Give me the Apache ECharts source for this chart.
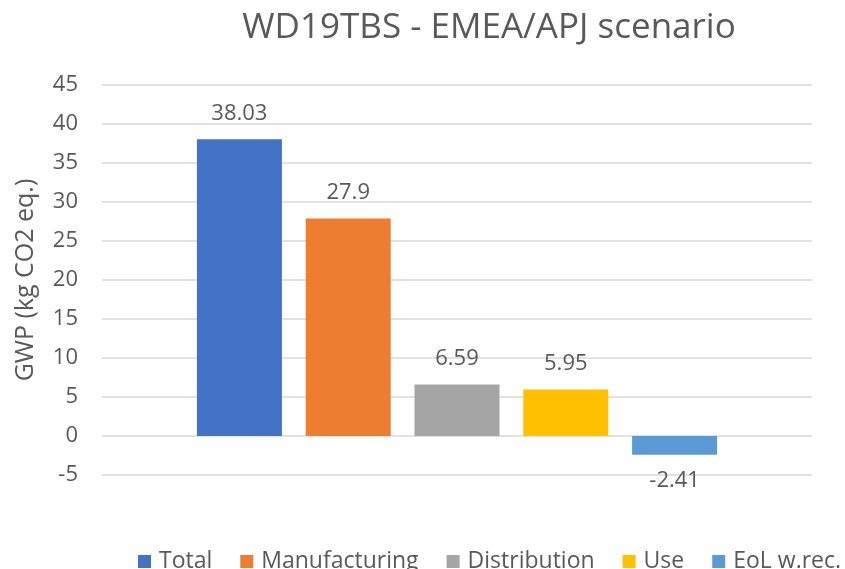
<!DOCTYPE html>
<html>
<head>
<meta charset="utf-8">
<script src="https://cdn.jsdelivr.net/npm/echarts@6/dist/echarts.min.js"></script>
<style>
  html, body { margin: 0; padding: 0; background: #fff; }
  #main { width: 845px; height: 569px; }
</style>
</head>
<body>
<div id="main"></div>
<script>
// data
var seriesNames = ['Total', 'Manufacturing', 'Distribution', 'Use', 'EoL w.rec.'];
var seriesValues = [38.03, 27.9, 6.59, 5.95, -2.41];
var seriesColors = ['#4472C4', '#ED7D31', '#A5A5A5', '#FFC000', '#5B9BD5'];
var categories = [''];

var myChart = echarts.init(document.getElementById('main'));

// one category, five series clustered side by side
var series = seriesNames.map(function (name, i) {
	var v = seriesValues[i];
	return {
		name: name,
		type: 'bar',
		barWidth: 85,
		barGap: '28%',
		itemStyle: { color: seriesColors[i] },
		label: {
			show: true,
			position: v < 0 ? 'bottom' : 'top',
			distance: 15,
			fontSize: 22,
			color: '#595959',
			fontFamily: 'Open Sans'
		},
		data: [v]
	};
});

var option = {
	animation: false,
	textStyle: { fontFamily: 'Open Sans' },
	title: {
		text: 'WD19TBS - EMEA/APJ scenario',
		left: 484,
		textAlign: 'center',
		top: 6,
		textStyle: { fontSize: 35, fontWeight: 'normal', color: '#595959', fontFamily: 'Open Sans' }
	},
	legend: {
		data: seriesNames,
		orient: 'horizontal',
		left: 133,
		top: 545,
		width: 760,
		icon: 'rect',
		itemWidth: 13,
		itemHeight: 13,
		itemGap: 28,
		textStyle: { fontSize: 23, color: '#595959', fontFamily: 'Open Sans', padding: [0, 0, 0, 3] }
	},
	grid: {
		left: 102,
		right: 33,
		top: 85,
		bottom: 94
	},
	xAxis: {
		type: 'category',
		data: categories,
		axisLine: { show: false },
		axisTick: { show: false },
		axisLabel: { show: false }
	},
	yAxis: {
		type: 'value',
		min: -5,
		max: 45,
		interval: 5,
		name: 'GWP (kg CO2 eq.)',
		nameLocation: 'middle',
		nameGap: 64,
		nameTextStyle: { fontSize: 25, color: '#595959', fontFamily: 'Open Sans' },
		axisLine: { show: false },
		axisTick: { show: false },
		axisLabel: { fontSize: 22, color: '#595959', margin: 24, fontFamily: 'Open Sans' },
		splitLine: { lineStyle: { color: '#d9d9d9', width: 1.5 } }
	},
	series: series
};

myChart.setOption(option);
</script>
</body>
</html>
